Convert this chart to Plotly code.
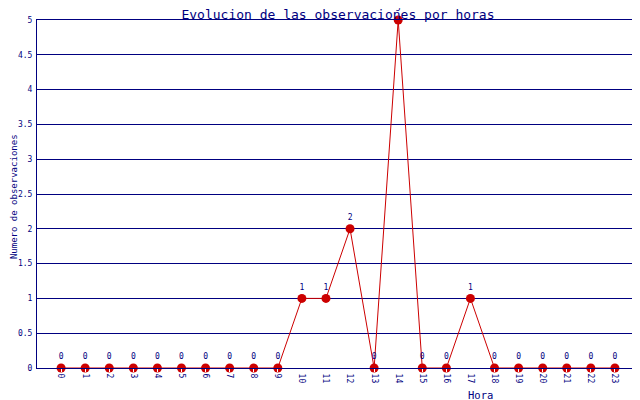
import plotly.graph_objects as go

horas = list(range(24))
observaciones = [0, 0, 0, 0, 0, 0, 0, 0, 0, 0, 1, 1, 2, 0, 5, 0, 0, 1, 0, 0, 0, 0, 0, 0]
y_ticks = [0, 0.5, 1, 1.5, 2, 2.5, 3, 3.5, 4, 4.5, 5]

navy = "#000080"
red = "#cc0000"
mono = "DejaVu Sans Mono"

fig = go.Figure()

fig.add_trace(go.Scatter(
    x=horas,
    y=observaciones,
    mode="lines+markers+text",
    text=[str(v) for v in observaciones],
    textposition="top center",
    textfont=dict(family=mono, size=8, color=navy),
    line=dict(color=red, width=1),
    marker=dict(color=red, size=9),
    cliponaxis=False,
    showlegend=False
))

# the page body adds 8px around the figure, so the figure is a bit smaller
fig.update_layout(
    width=632,
    height=392,
    margin=dict(l=29, r=1, t=12, b=32),
    paper_bgcolor="white",
    plot_bgcolor="white",
    title=dict(
        text="Evolucion de las observaciones por horas",
        font=dict(family=mono, size=13, color=navy),
        xref="paper", x=0.5, xanchor="center",
        yref="container", y=0.996, yanchor="top", pad=dict(t=0, b=0)
    ),
    xaxis=dict(
        range=[-1, 24],
        automargin=False,
        tickmode="array",
        tickvals=horas,
        ticktext=[str(h) for h in horas],
        tickangle=90,
        tickfont=dict(family=mono, size=8, color=navy),
        ticks="outside", ticklen=3, tickcolor="white",
        showgrid=False, zeroline=False,
        showline=True, linecolor=navy, linewidth=1, mirror=True
    ),
    yaxis=dict(
        range=[0, 5],
        automargin=False,
        tickmode="array",
        tickvals=y_ticks,
        ticktext=[("%g" % v) for v in y_ticks],
        tickfont=dict(family=mono, size=8, color=navy),
        ticks="outside", ticklen=2, tickcolor="white",
        showgrid=True, gridcolor=navy, gridwidth=1,
        zeroline=False,
        showline=True, linecolor=navy, linewidth=1, mirror=True
    ),
    annotations=[
        dict(text="Hora", xref="paper", yref="paper", x=0.7375, y=-0.055,
             xanchor="center", yanchor="top", showarrow=False,
             font=dict(family=mono, size=10.5, color=navy)),
        dict(text="Numero de observaciones", xref="paper", yref="paper",
             x=-0.0482, y=0.494, xanchor="left", yanchor="middle", textangle=-90,
             showarrow=False, borderpad=0,
             font=dict(family=mono, size=9, color=navy))
    ]
)

fig.write_html("out.html")
